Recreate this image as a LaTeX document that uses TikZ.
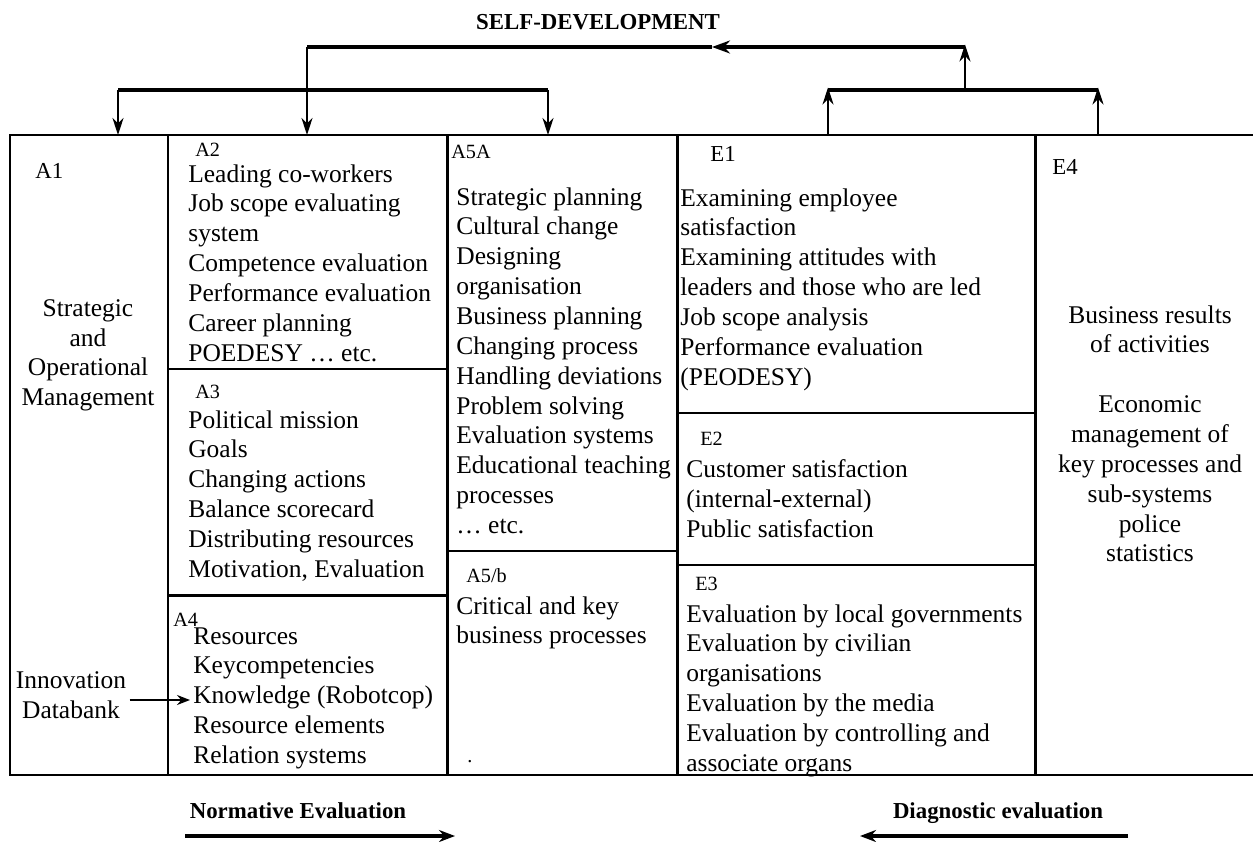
\documentclass[tikz,border=0pt]{standalone}
\usepackage{fontspec}
\setmainfont{Liberation Serif}
\usetikzlibrary{arrows.meta}
\tikzset{
  cell/.style={anchor=north west, align=left, inner sep=0pt, font=\fontsize{14.5}{17}\selectfont},
  centred/.style={anchor=north, align=center, inner sep=0pt, font=\fontsize{14.5}{17}\selectfont},
  tag/.style={anchor=base west, inner sep=0pt, font=\fontsize{11.5}{13}\selectfont},
  bigtag/.style={tag, font=\fontsize{13}{15}\selectfont},
  heading/.style={anchor=base, inner sep=0pt, font=\bfseries\fontsize{13}{15}\selectfont},
  frame/.style={line width=1.2pt},
  divider/.style={line width=1.7pt},
  feed/.style={line width=2.4pt},
  feeddown/.style={line width=1.3pt, -{Stealth[length=3.4mm,width=2.2mm]}},
  flow/.style={line width=2pt, -{Stealth[length=3.2mm,width=2.4mm]}},
}
\begin{document}
\begin{tikzpicture}[x=0.02cm, y=-0.02cm]
\useasboundingbox (0,0) rectangle (1253,841);

% frame and cells
\draw[frame] (1253,135) -- (10,135) -- (10,775) -- (1253,775);
\draw[divider] (168,135) -- (168,775);
\draw[divider] (447,135) -- (447,775);
\draw[divider] (677,135) -- (677,775);
\draw[divider] (1035,135) -- (1035,775);
\draw[divider] (168,369) -- (447,369);
\draw[divider] (168,595) -- (447,595);
\draw[divider] (447,551) -- (677,551);
\draw[divider] (677,413) -- (1035,413);
\draw[divider] (677,565) -- (1035,565);

% feedback loop
\coordinate (loop_left) at (307,47);
\coordinate (loop_mid) at (712,47);
\coordinate (loop_right) at (965,47);
\coordinate (norm_left) at (118,90);
\coordinate (norm_right) at (548,90);
\coordinate (diag_left) at (828,90);
\coordinate (diag_mid) at (965,90);
\coordinate (diag_right) at (1098,90);
\coordinate (in_A1) at (118,135);
\coordinate (in_A2) at (307,135);
\coordinate (in_A5) at (548,135);
\coordinate (out_E1) at (828,135);
\coordinate (out_E4) at (1098,135);

\node[heading] (selfdev) at (598,30) {SELF-DEVELOPMENT};
\draw[feed, -{Stealth[length=3.6mm,width=2.6mm]}] (loop_right) -- (loop_mid);
\draw[feed] (loop_mid) -- (loop_left);
\draw[feed] (norm_left) -- (norm_right);
\draw[feed] (diag_left) -- (diag_right);
\draw[feeddown] (loop_left) -- (in_A2);
\draw[feeddown] (norm_left) -- (in_A1);
\draw[feeddown] (norm_right) -- (in_A5);
\draw[feeddown] (out_E1) -- ([yshift=0.05cm]diag_left);
\draw[feeddown] (out_E4) -- ([yshift=0.05cm]diag_right);
\draw[feeddown] (diag_mid) -- ([yshift=0.05cm]loop_right);

% A column
\node[bigtag] (A1) at (35,179) {A1};
\node[centred] (A1_text) at (88,299) {Strategic\\and\\Operational\\Management};
\node[centred] (databank) at (71,671) {Innovation\\Databank};
\node[tag] (A2) at (195,157) {A2};
\node[cell] (A2_text) at (188,164) {Leading co-workers\\Job scope evaluating\\system\\Competence evaluation\\Performance evaluation\\Career planning\\POEDESY \dots\ etc.};
\node[tag] (A3) at (195,398) {A3};
\node[cell] (A3_text) at (188,410) {Political mission\\Goals\\Changing actions\\Balance scorecard\\Distributing resources\\Motivation, Evaluation};
\node[tag] (A4) at (173,626) {A4};
\node[cell] (A4_text) at (193,627) {Resources\\Keycompetencies\\Knowledge (Robotcop)\\Resource elements\\Relation systems};
\coordinate (knowledge) at (190,700);
\draw[line width=1pt, -{Stealth[length=2.6mm,width=2mm]}] (databank.east |- knowledge) ++(3,0) -- (knowledge);

\node[tag] (A5A) at (451,159) {A5A};
\node[cell] (A5A_text) at (456,187) {Strategic planning\\Cultural change\\Designing\\organisation\\Business planning\\Changing process\\Handling deviations\\Problem solving\\Evaluation systems\\Educational teaching\\processes\\\dots\ etc.};
\node[tag] (A5b) at (466,582) {A5/b};
\node[cell] (A5b_text) at (456,596) {Critical and key\\business processes};
\node[tag] (A5b_dot) at (467,762) {.};

% E column
\node[bigtag] (E1) at (710,162) {E1};
\node[cell] (E1_text) at (680,188) {Examining employee\\satisfaction\\Examining attitudes with\\leaders and those who are led\\Job scope analysis\\Performance evaluation\\(PEODESY)};
\node[tag] (E2) at (700,445) {E2};
\node[cell] (E2_text) at (686,459) {Customer satisfaction\\(internal-external)\\Public satisfaction};
\node[tag] (E3) at (695,590) {E3};
\node[cell] (E3_text) at (686,604) {Evaluation by local governments\\Evaluation by civilian\\organisations\\Evaluation by the media\\Evaluation by controlling and\\associate organs};
\node[bigtag] (E4) at (1052,174) {E4};
\node[centred] (E4_text) at (1150,305) {Business results\\of activities\\[17pt]Economic\\management of\\key processes and\\sub-systems\\police\\statistics};

% evaluation directions
\node[heading] (normative) at (298,818) {Normative Evaluation};
\node[heading] (diagnostic) at (998,818) {Diagnostic evaluation};
\coordinate (norm_start) at (185,836);
\coordinate (norm_end) at (455,836);
\coordinate (diag_start) at (1128,836);
\coordinate (diag_end) at (860,836);
\draw[flow] (norm_start) -- (norm_end);
\draw[flow] (diag_start) -- (diag_end);
\end{tikzpicture}
\end{document}
